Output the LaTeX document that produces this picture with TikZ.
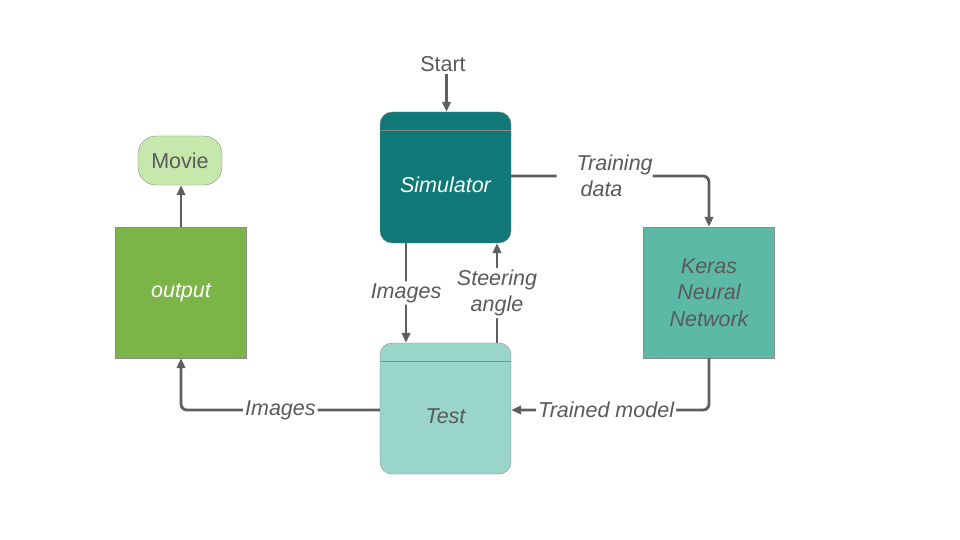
\documentclass[tikz,border=0pt]{standalone}
\usepackage{fontspec}
\setmainfont{Liberation Sans}
\usetikzlibrary{arrows.meta,calc,positioning}
\definecolor{simteal}{HTML}{107977}
\definecolor{testteal}{HTML}{9AD5CA}
\definecolor{kerasteal}{HTML}{5BB9A6}
\definecolor{outgreen}{HTML}{7CB547}
\definecolor{moviegreen}{HTML}{C7E8AC}
\definecolor{linegray}{HTML}{5F5F5F}
\definecolor{textgray}{HTML}{5A5A5A}
\definecolor{edgegray}{HTML}{8A8A8A}

\begin{document}
\begin{tikzpicture}[x=1pt,y=-1pt,>={Triangle[length=10pt,width=8.5pt]},
  font=\fontsize{21.5}{26}\selectfont,
  block/.style={minimum width=131pt,minimum height=131pt,inner sep=0pt,align=center,
    font=\fontsize{21.5}{26.5}\selectfont\itshape},
  flow/.style={->,line width=2.8pt,draw=linegray,rounded corners=6pt},
  lbl/.style={fill=white,text=textgray,font=\fontsize{21.5}{26}\selectfont\itshape,inner sep=2pt,align=left}]
  \useasboundingbox (0,0) rectangle (960,540);
  \node[block,fill=simteal,draw=edgegray,rounded corners=12pt,text=white] (sim) at (445.5,177.5) {\raisebox{-15pt}[0pt][0pt]{Simulator}};
  \node[block,fill=testteal,draw=edgegray,rounded corners=12pt,text=textgray] (test) at (445.5,408.5) {\raisebox{-15pt}[0pt][0pt]{Test}};
  \node[block,fill=outgreen,draw=edgegray,text=white] (out) at (181,292.5) {output};
  \node[block,fill=kerasteal,draw=edgegray,text=textgray] (keras) at (709,292.5) {Keras\\Neural\\Network};
  \node[fill=moviegreen,draw=edgegray,rounded corners=18pt,minimum width=84pt,minimum height=49pt,inner sep=0pt,text=textgray] (movie) at (180,160.5) {Movie};
  \node[text=textgray,inner sep=2pt] (start) at (443,64) {Start};
  % header lines
  \draw[edgegray,line width=0.8pt] ([yshift=-19pt]sim.north west) -- ([yshift=-19pt]sim.north east);
  \draw[edgegray,line width=1.2pt] ([yshift=-19pt]test.north west) -- ([yshift=-19pt]test.north east);
  % connectors
  \draw[flow] ([xshift=1pt]sim.north |- start.south) -- ([xshift=1pt]sim.north);
  \draw[flow] ([xshift=-39.5pt]sim.south) -- node[lbl] {Images} ([xshift=-39.5pt]test.north);
  \draw[flow] ([xshift=51.5pt]test.north) -- node[lbl,align=center] {Steering\\angle} ([xshift=51.5pt]sim.south);
  \draw[flow] ([yshift=1.5pt]sim.east) -- ++(44,0) node[lbl,anchor=west,pos=1,inner xsep=0pt]
    {\hspace*{20pt}Training\\\hspace*{24pt}data} -| (keras.north);
  \draw[flow] (keras.south) |- node[lbl,pos=0.76] {Trained model} ([yshift=-1.5pt]test.east);
  \draw[flow] ([yshift=-1.5pt]test.west) -| node[lbl,pos=0.25] {Images} (out.south);
  \draw[flow] (out.north) -- (out.north |- movie.south);
\end{tikzpicture}
\end{document}
